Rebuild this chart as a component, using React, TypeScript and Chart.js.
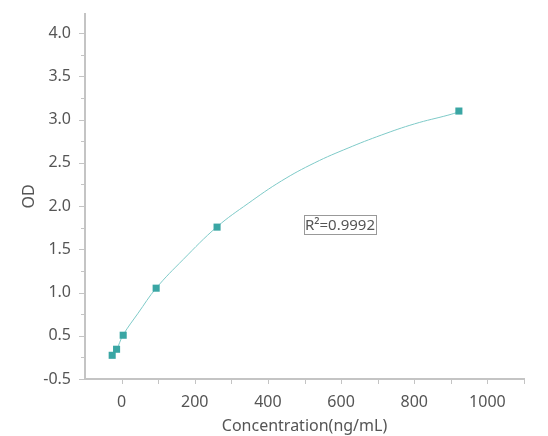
import React, { useEffect, useRef } from "react";
import { Chart, registerables } from "chart.js";

Chart.register(...registerables);

// Measured standards (concentration, OD)
const standardX = [-25.7, -13.7, 4.4, 94.5, 261, 922];
const standardY = [0.274, 0.344, 0.506, 1.05, 1.756, 3.098];

// Fitted curve
const curveX = [-25.7, -13.7, 4.4, 45, 94.5, 168, 261, 346, 437, 528, 619, 710, 801, 892, 924];
const curveY = [0.27, 0.34, 0.51, 0.76, 1.05, 1.38, 1.76, 2.03, 2.29, 2.5, 2.67, 2.82, 2.95, 3.05, 3.09];

const xLabels = [0, 200, 400, 600, 800, 1000];
const yLabelValues = [0, 0.5, 1, 1.5, 2, 2.5, 3, 3.5, 4];
const yLabelTexts = ["-0.5", "0.5", "1.0", "1.5", "2.0", "2.5", "3.0", "3.5", "4.0"];

const r2Text = "R²=0.9992";
const r2Anchor = { x: 597, y: 1.785 };

const FONT = "'Noto Sans', sans-serif";
const AXIS_COLOR = "#c4c4c4";
const TEXT_COLOR = "#555555";

export default function App() {
  const ref = useRef<HTMLCanvasElement | null>(null);

  useEffect(() => {
    if (!ref.current) return;

    const tickPlugin = {
      id: "customTicks",
      afterDraw(chart: any) {
        const ctx = chart.ctx;
        const xs = chart.scales.x;
        const ys = chart.scales.y;
        ctx.save();
        ctx.strokeStyle = AXIS_COLOR;
        ctx.lineWidth = 1;
        ys.ticks.forEach((t: any) => {
          const py = Math.round(ys.getPixelForValue(t.value)) + 0.5;
          const major = yLabelValues.some((v) => Math.abs(v - t.value) < 1e-6);
          const len = major ? 6 : 4;
          ctx.beginPath();
          ctx.moveTo(ys.right - len, py);
          ctx.lineTo(ys.right, py);
          ctx.stroke();
        });
        xs.ticks.forEach((t: any) => {
          if (t.value < -50) return;
          const px = Math.round(xs.getPixelForValue(t.value)) + 0.5;
          ctx.beginPath();
          ctx.moveTo(px, xs.top);
          ctx.lineTo(px, xs.top + 5);
          ctx.stroke();
        });
        const cx = xs.getPixelForValue(r2Anchor.x);
        const cy = ys.getPixelForValue(r2Anchor.y);
        ctx.font = `15px ${FONT}`;
        ctx.fillStyle = TEXT_COLOR;
        ctx.textAlign = "center";
        ctx.textBaseline = "middle";
        const bw = 72;
        const bh = 19;
        ctx.strokeStyle = "#999999";
        ctx.strokeRect(Math.round(cx - bw / 2) + 0.5, Math.round(cy - bh / 2) + 0.5, bw, bh);
        ctx.fillText(r2Text, cx, cy + 1);
        ctx.restore();
      },
    };

    const chart = new Chart(ref.current, {
      type: "scatter",
      data: {
        datasets: [
          {
            label: "fit",
            data: curveX.map((x, i) => ({ x, y: curveY[i] })),
            showLine: true,
            borderColor: "#7ecac8",
            borderWidth: 1,
            pointRadius: 0,
            tension: 0.4,
            order: 2,
          } as any,
          {
            label: "standards",
            data: standardX.map((x, i) => ({ x, y: standardY[i] })),
            pointStyle: "rect",
            pointRadius: 5,
            backgroundColor: "#3aa6a4",
            borderWidth: 0,
            order: 1,
          } as any,
        ],
      },
      options: {
        animation: false,
        responsive: false,
        layout: { padding: { top: 14, right: 24, left: 0, bottom: 0 } },
        plugins: {
          legend: { display: false },
          tooltip: { enabled: false },
        },
        scales: {
          x: {
            type: "linear",
            min: -100,
            max: 1100,
            grid: { display: false, drawTicks: false },
            border: { display: true, color: AXIS_COLOR, width: 2 },
            ticks: {
              stepSize: 100,
              padding: 14,
              color: TEXT_COLOR,
              font: { family: FONT, size: 16 },
              maxRotation: 0,
              autoSkip: false,
              callback: (v: any) => (xLabels.includes(Number(v)) ? String(v) : ""),
            },
            title: {
              display: true,
              text: "Concentration(ng/mL)",
              color: TEXT_COLOR,
              font: { family: FONT, size: 16 },
              padding: { top: -9, bottom: 0 },
            },
            afterFit: (s: any) => {
              s.height = 57;
              s.paddingLeft = 0;
              s.paddingRight = 0;
            },
          },
          y: {
            type: "linear",
            min: 0,
            max: 4.22,
            grid: { display: false, drawTicks: false },
            border: { display: true, color: AXIS_COLOR, width: 2 },
            ticks: {
              stepSize: 0.25,
              includeBounds: false,
              padding: 14,
              color: TEXT_COLOR,
              font: { family: FONT, size: 16 },
              autoSkip: false,
              callback: (v: any) => {
                const idx = yLabelValues.findIndex((y) => Math.abs(y - Number(v)) < 1e-6);
                return idx >= 0 ? yLabelTexts[idx] : "";
              },
            },
            title: {
              display: true,
              text: "OD",
              color: TEXT_COLOR,
              font: { family: FONT, size: 16 },
              padding: { top: 20, bottom: 0 },
            },
            afterFit: (s: any) => {
              s.width = 85;
              s.paddingTop = 0;
              s.paddingBottom = 0;
            },
          },
        },
      },
      plugins: [tickPlugin],
    });

    return () => chart.destroy();
  }, []);

  return (
    <div style={{ position: "fixed", left: 0, top: 0, width: 548, height: 436, background: "#fff" }}>
      <canvas ref={ref} width={548} height={436} style={{ width: 548, height: 436 }} />
    </div>
  );
}
